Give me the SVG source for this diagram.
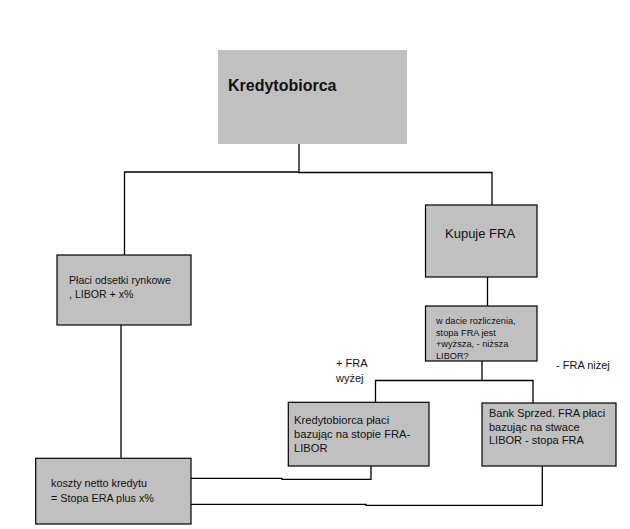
<svg xmlns="http://www.w3.org/2000/svg" width="630" height="529" viewBox="0 0 630 529">
<style>
.bx{fill:#c0c0c0;stroke:#000;stroke-width:1.2}
.t{font-family:"Liberation Sans",Arial,sans-serif;fill:#111}
.c{fill:none;stroke:#000;stroke-width:1.3}
</style>
<rect width="630" height="529" fill="#fff"/>
<g id="connectors">
<path class="c" d="M299,144 V172 M124.5,255 V172 H298 M298,172.5 H492 V205"/>
<path class="c" d="M487.5,277 V306"/>
<path class="c" d="M482,361 V380 M375.5,402 V380.5 H533 V403"/>
<path class="c" d="M121,325 V458"/>
<path class="c" d="M371,466 V479.3 H282 V478.3 H191"/>
<path class="c" d="M542.3,466 V505.3 H366 V504.3 H191"/>
</g>
<g id="n1"><rect x="218" y="50" width="189" height="94" fill="#c0c0c0"/><text class="t" x="228" y="91" font-size="16" font-weight="bold">Kredytobiorca</text></g>
<g id="n2"><rect class="bx" x="425.5" y="205" width="111.5" height="72"/><text class="t" x="445" y="238" font-size="13">Kupuje FRA</text></g>
<g id="n3"><rect class="bx" x="57" y="255" width="134" height="70"/><text class="t" x="69" y="284" font-size="10.6">Płaci odsetki rynkowe</text><text class="t" x="69" y="298" font-size="10.6">, LIBOR + x%</text></g>
<g id="n4"><rect class="bx" x="425.5" y="306" width="111.5" height="55"/><text class="t" font-size="9.2"><tspan x="436" y="324">w dacie rozliczenia,</tspan><tspan x="436" y="335.5">stopa FRA jest</tspan><tspan x="436" y="347">+wyższa, - niższa</tspan><tspan x="436" y="358.5">LIBOR?</tspan></text></g>
<g id="l1"><text class="t" font-size="11"><tspan x="336" y="367">+ FRA</tspan><tspan x="336" y="382">wyżej</tspan></text></g>
<g id="l2"><text class="t" x="556" y="369" font-size="11">- FRA niżej</text></g>
<g id="n5"><rect class="bx" x="288.3" y="402.3" width="140.7" height="63.7"/><text class="t" font-size="11.2"><tspan x="294" y="424.3">Kredytobiorca płaci</tspan><tspan x="294" y="438">bazując na stopie FRA-</tspan><tspan x="294" y="451.7">LIBOR</tspan></text></g>
<g id="n6"><rect class="bx" x="482" y="403" width="134" height="63"/><text class="t" font-size="11"><tspan x="489" y="417">Bank Sprzed. FRA płaci</tspan><tspan x="489" y="430.5">bazując na stwace</tspan><tspan x="489" y="444">LIBOR - stopa FRA</tspan></text></g>
<g id="n7"><rect class="bx" x="35.7" y="458.3" width="155.3" height="65.7"/><text class="t" font-size="10.8"><tspan x="51" y="486.7">koszty netto kredytu</tspan><tspan x="51" y="502">= Stopa ERA plus x%</tspan></text></g>
</svg>
